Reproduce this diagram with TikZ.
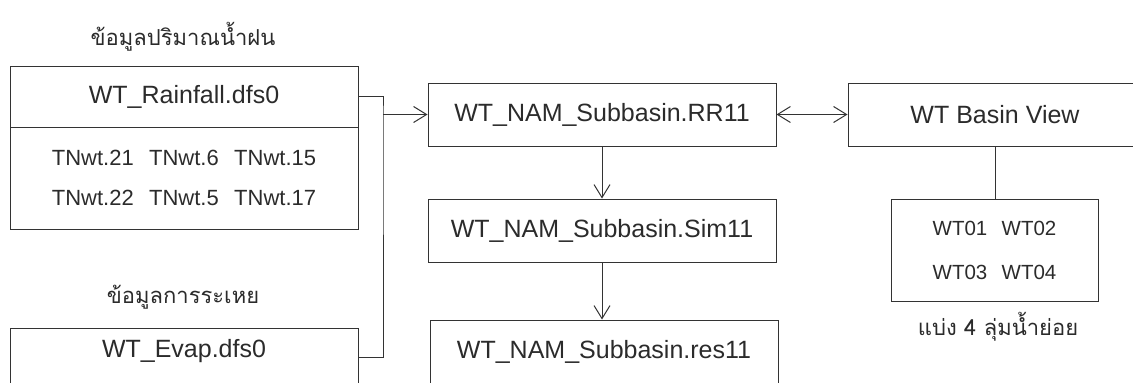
\documentclass[tikz,border=0pt]{standalone}
\usepackage{fontspec}
\setmainfont{Liberation Sans}
\newfontfamily\thaifont[Script=Thai]{Loma}
\usepackage{xcolor}
\definecolor{lineGray}{HTML}{333333}
\definecolor{textGray}{HTML}{2B2B2B}
\usepackage{tikz}
\usetikzlibrary{
    arrows.meta,
    positioning
}
\tikzset{
    % Base style for the file boxes
    file box/.style={
        rectangle,
        draw=lineGray,
        line width=1pt,
        inner sep=0pt,
        align=center,
        text=textGray,
        font=\fontsize{25}{30}\selectfont,
        minimum width=348pt,
        minimum height=63pt,
    },
    % Boxes holding two rows of station names
    list box/.style={
        file box,
        font=\fontsize{22}{40}\selectfont,
        minimum height=102pt,
    },
    % Thai headings above and below the boxes
    heading/.style={
        text=textGray,
        font=\thaifont\fontsize{22}{26}\selectfont,
    },
    % Plain connector
    link/.style={
        draw=lineGray,
        line width=1pt,
    },
    % Open arrow heads
    arrow/.style={
        link,
        -{Straight Barb[length=13pt, width=16pt]},
    },
    arrow both/.style={
        link,
        {Straight Barb[length=13pt, width=16pt]}-{Straight Barb[length=13pt, width=16pt]},
    },
}

\begin{document}
\begin{tikzpicture}[x=1pt, y=-1pt]
    \useasboundingbox (0,0) rectangle (1133,383);
    \clip (0,0) rectangle (1133,383);

    % input data
    \node (rainhead) [heading] at (183,37) {ข้อมูลปริมาณน้ำฝน};
    \node (rain) [file box, minimum height=61pt] at (184,96.5) {WT\_Rainfall.dfs0};
    \node (stations) [list box] at (184,178)
        {TNwt.21\hspace{0.7em}TNwt.6\hspace{0.7em}TNwt.15\\TNwt.22\hspace{0.7em}TNwt.5\hspace{0.7em}TNwt.17};
    \node (evaphead) [heading] at (183,297) {ข้อมูลการระเหย};
    \node (evap) [file box, minimum height=0pt, text height=29pt, text depth=34pt, anchor=base]
        at (184,357) {WT\_Evap.dfs0};

    % model files
    \node (rr) [file box] at (602,114.5) {WT\_NAM\_Subbasin.RR11};
    \node (sim) [file box] at (602,230.5) {WT\_NAM\_Subbasin.Sim11};
    \node (res) [file box, minimum height=64pt] at (604,352) {WT\_NAM\_Subbasin.res11};

    % basin
    \node (basin) [file box, minimum width=294pt] at (995,114.5) {WT Basin View};
    \node (subs) [list box, minimum width=207pt, font=\fontsize{20.5}{44}\selectfont] at (994.5,250)
        {WT01\hspace{0.7em}WT02\\WT03\hspace{0.7em}WT04};
    \node (subhead) [heading] at (998,327) {แบ่ง 4 ลุ่มน้ำย่อย};

    \coordinate (bus) at (383,114.5);

    \draw [link] (rain.east) -| (bus) |- (evap.base east);
    \draw [arrow] (bus) -- (rr.west);
    \draw [arrow] (rr.south) -- (sim.north);
    \draw [arrow] (sim.south) -- (sim.south |- res.north);
    \draw [arrow both] (rr.east) -- (basin.west);
    \draw [link] (basin.south) -- (basin.south |- subs.north);
\end{tikzpicture}
\end{document}
